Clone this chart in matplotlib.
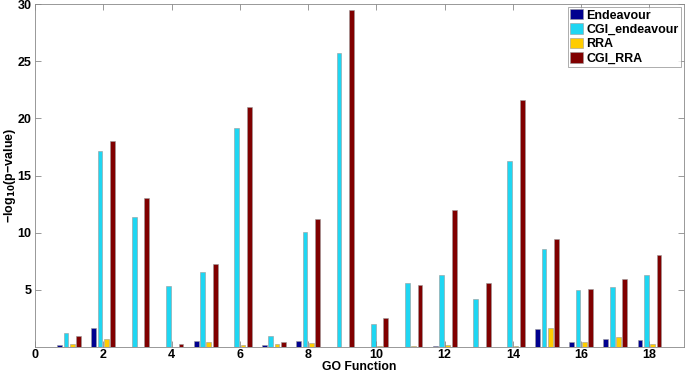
import numpy as np
import matplotlib
matplotlib.use('Agg')
import matplotlib.pyplot as plt

plt.rcParams['font.family'] = ['Liberation Sans', 'DejaVu Sans']
plt.rcParams['font.weight'] = 'bold'
plt.rcParams['mathtext.default'] = 'bf'

# GO function index and -log10(p-value) per method
go_function = np.arange(1, 19)
endeavour = [0.2, 1.7, 0.0, 0.0, 0.52, 0.05, 0.17, 0.55, 0.0, 0.02, 0.05, 0.1, 0.0, 0.0, 1.6, 0.47, 0.67, 0.58]
cgi_endeavour = [1.2, 17.15, 11.4, 5.3, 6.6, 19.2, 0.96, 10.1, 25.7, 2.0, 5.6, 6.3, 4.17, 16.3, 8.55, 4.99, 5.22, 6.3]
rra = [0.25, 0.67, 0.0, 0.05, 0.44, 0.15, 0.26, 0.35, 0.0, 0.1, 0.1, 0.2, 0.0, 0.1, 1.66, 0.44, 0.85, 0.24]
cgi_rra = [0.94, 18.0, 13.0, 0.3, 7.3, 21.0, 0.46, 11.2, 29.5, 2.57, 5.42, 11.95, 5.57, 21.6, 9.45, 5.07, 5.95, 8.08]

series = [('Endeavour', endeavour, '#00008F'),
          ('CGI_endeavour', cgi_endeavour, '#1FD6F2'),
          ('RRA', rra, '#FFCC00'),
          ('CGI_RRA', cgi_rra, '#800000')]

fig = plt.figure(figsize=(6.85, 3.72), dpi=100)
ax = fig.add_axes([0.051, 0.067, 0.947, 0.922])

step = 0.185
for i, (name, vals, col) in enumerate(series):
    ax.bar(go_function + (i - 1.5) * step, vals, width=0.14, color=col,
           edgecolor='#9a9a9a', linewidth=0.4, label=name)

ax.set_xlim(0, 19)
ax.set_ylim(0, 30)
ax.set_xticks(np.arange(0, 19, 2))
ax.set_yticks([5, 10, 15, 20, 25, 30])
ax.tick_params(direction='in', top=True, right=True, labelsize=9,
               length=4, width=0.6, color='#888888', pad=2.5)
ax.tick_params(axis='x', pad=1.5)
for s in ax.spines.values():
    s.set_color('#888888')
    s.set_linewidth(0.6)

ax.set_xlabel('GO Function', fontsize=8.8, fontweight='bold')
ax.xaxis.set_label_coords(0.5, -0.041)
ax.set_ylabel('−log$_{10}$(p−value)', fontsize=9, fontweight='bold')
ax.yaxis.set_label_coords(-0.026, 0.5)

leg = ax.legend(loc='upper right', fontsize=9, frameon=True, fancybox=False,
                borderpad=0.2, labelspacing=0.15, handlelength=1.0,
                handleheight=0.9, handletextpad=0.3, borderaxespad=0.2)
leg.get_frame().set_edgecolor('#888888')
leg.get_frame().set_linewidth(0.6)

fig.savefig('out.png', dpi=100)
